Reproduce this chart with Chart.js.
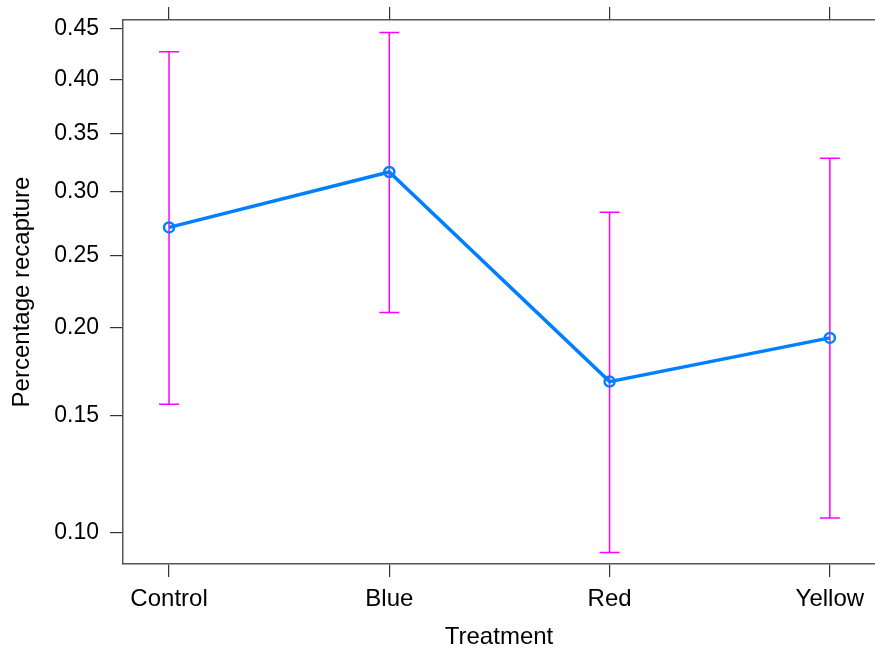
<!DOCTYPE html>
<html>
<head>
<meta charset="utf-8">
<script src="https://cdn.jsdelivr.net/npm/chart.js@4.4.1/dist/chart.umd.min.js"></script>
<style>
  html, body { margin: 0; padding: 0; background: #fff; overflow: hidden; }
  #wrap { width: 875px; height: 654px; }
</style>
</head>
<body>
<div id="wrap"><canvas id="chart"></canvas></div>
<script>
// fitted recapture proportions with 95% confidence limits
const treatments = ['Control', 'Blue', 'Red', 'Yellow'];
const recapture = [0.2712, 0.3166, 0.1682, 0.1938];
const lowerCI = [0.1561, 0.2100, 0.0933, 0.1055];
const upperCI = [0.4270, 0.4458, 0.2831, 0.3284];

// y axis drawn on the logit scale, labelled in proportions
const yTicks = [0.10, 0.15, 0.20, 0.25, 0.30, 0.35, 0.40, 0.45];
const yTickLabels = ['0.10', '0.15', '0.20', '0.25', '0.30', '0.35', '0.40', '0.45'];
const yLimits = [0.0895, 0.458];

const logit = p => Math.log(p / (1 - p));

Chart.defaults.font.family = '"Liberation Sans", Arial, sans-serif';
Chart.defaults.color = '#000';

const AXIS_GREY = '#555';
const xMin = -0.209, xMax = 3.205;

// magenta confidence bars with flat caps
const errorBars = {
  id: 'errorBars',
  beforeDatasetsDraw(chart) {
    const { ctx, scales: { x, y } } = chart;
    ctx.save();
    ctx.strokeStyle = '#ff00ff';
    ctx.lineWidth = 1.5;
    treatments.forEach((t, i) => {
      const px = x.getPixelForValue(i);
      const lo = y.getPixelForValue(logit(lowerCI[i]));
      const hi = y.getPixelForValue(logit(upperCI[i]));
      ctx.beginPath();
      ctx.moveTo(px, lo); ctx.lineTo(px, hi);
      ctx.moveTo(px - 10, lo); ctx.lineTo(px + 10, lo);
      ctx.moveTo(px - 10, hi); ctx.lineTo(px + 10, hi);
      ctx.stroke();
    });
    ctx.restore();
  }
};

const categoryTicks = s => { s.ticks = treatments.map((_, i) => ({ value: i })); };
// fixed box sizes, no extra room reserved for labels at the ends
const sized = (w, h) => s => {
  if (w !== null) s.width = w;
  if (h !== null) s.height = h;
  s.paddingLeft = s.paddingRight = s.paddingTop = s.paddingBottom = 0;
};
const tickGrid = { drawOnChartArea: false, drawTicks: true, tickLength: 13, color: '#333', lineWidth: 1.2 };
const frame = { display: true, color: AXIS_GREY, width: 1.5 };

new Chart(document.getElementById('chart'), {
  type: 'line',
  data: {
    datasets: [{
      data: recapture.map((p, i) => ({ x: i, y: logit(p) })),
      borderColor: '#0080ff',
      borderWidth: 3.5,
      pointRadius: 5,
      pointBorderWidth: 2.5,
      pointBorderColor: '#0080ff',
      pointBackgroundColor: 'rgba(255,255,255,0)',
      tension: 0
    }]
  },
  options: {
    responsive: true,
    maintainAspectRatio: false,
    animation: false,
    layout: { padding: 0, autoPadding: false },
    plugins: { legend: { display: false }, tooltip: { enabled: false } },
    scales: {
      x: {
        type: 'linear',
        position: 'bottom',
        min: xMin,
        max: xMax,
        afterBuildTicks: categoryTicks,
        afterFit: sized(null, 90),
        ticks: { autoSkip: false, maxRotation: 0, padding: 8, font: { size: 24 }, callback: (v, i) => treatments[i] },
        grid: tickGrid,
        border: frame,
        title: { display: true, text: 'Treatment', font: { size: 24 }, padding: { top: 0, bottom: 2 } }
      },
      x2: {
        type: 'linear',
        position: 'top',
        min: xMin,
        max: xMax,
        afterBuildTicks: categoryTicks,
        afterFit: sized(null, 20),
        ticks: { display: false },
        grid: tickGrid,
        border: frame
      },
      y: {
        type: 'linear',
        min: logit(yLimits[0]),
        max: logit(yLimits[1]),
        afterBuildTicks: s => { s.ticks = yTicks.map(v => ({ value: logit(v) })); },
        afterFit: sized(123, null),
        ticks: { padding: 11, font: { size: 23 }, callback: (v, i) => yTickLabels[i] },
        grid: tickGrid,
        border: frame,
        title: { display: true, text: 'Percentage recapture', font: { size: 24 }, padding: { top: 8, bottom: 0 } }
      }
    }
  },
  plugins: [errorBars]
});
</script>
</body>
</html>
